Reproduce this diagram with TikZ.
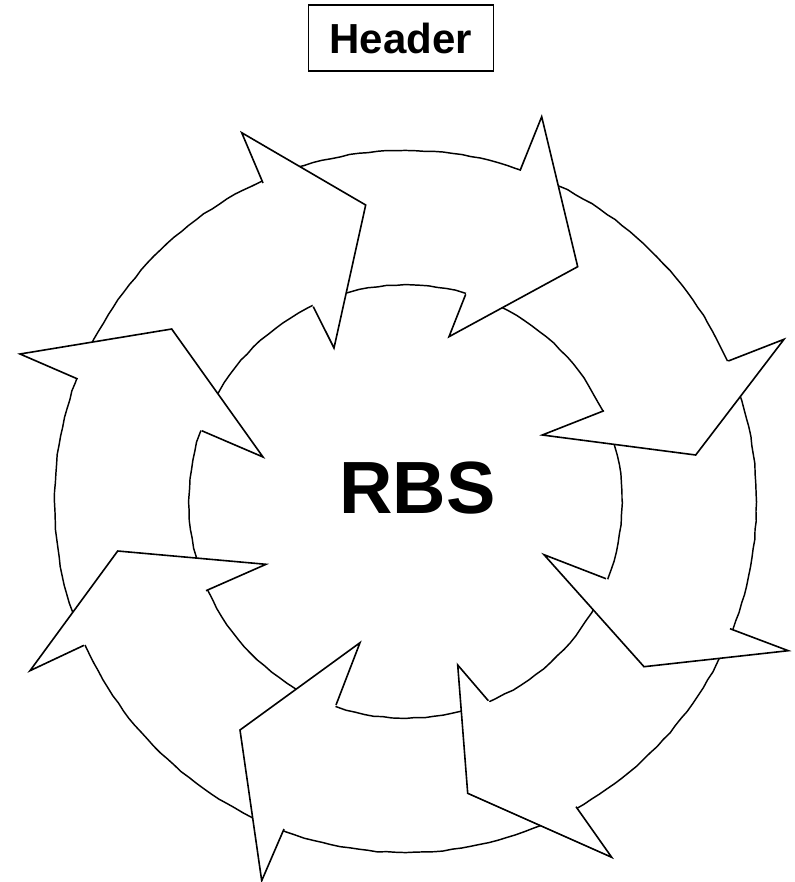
\documentclass[tikz,border=0pt]{standalone}
\usepackage{fontspec}
\setmainfont{Liberation Sans}
\usetikzlibrary{decorations.pathmorphing}

\begin{document}
\begin{tikzpicture}[
    x=0.75pt, y=-0.75pt,
    ring/.style={draw=black, line width=1.1pt, decorate,
                 decoration={random steps, segment length=7pt, amplitude=0.35pt}},
    headfill/.style={fill=white},
    headline/.style={draw=black, line width=1.2pt, line join=miter},
    title/.style={draw=black, line width=1.1pt, inner sep=0pt,
                  minimum width=138.7pt, minimum height=49.5pt,
                  font=\bfseries\fontsize{31.5}{36}\selectfont},
    centre/.style={font=\bfseries\fontsize{55.5}{64}\selectfont},
]
\useasboundingbox (0,0) rectangle (794,882);

% ===================== Titulo =====================
\node[title] (header) at (400.8,38) {Header};

% ===================== Anillo =====================
\draw[ring] (405.5,501.5) circle (263.2pt);
\draw[ring] (405.5,501.5) circle (162.4pt);

% ===================== Puntas de flecha =====================
% union exterior / punta exterior / vertice / punta interior / union interior
\foreach \xa/\ya/\xb/\yb/\xc/\yc/\xd/\yd/\xe/\ye in {
    263/183/241.7/132.7/365.7/205/334/348/313.3/306.7,
    520/170.7/541.7/116.7/577.7/266.7/449/336.7/465.7/294.3,
    728.3/361/784/339.3/695.7/455/542.3/435/604/410.7,
    730/628.7/788.3/650.7/644/666.7/544/554.7/606/578.7,
    576/806.7/611.7/857.3/467.7/793.3/457.7/665/488.3/700.7,
    284/829/261.7/880.7/240/730/360/642.7/336/705,
    84/645.3/30/670.7/117.7/551/266/564.3/206/590.7,
    77.7/379/20/354/171.7/329/263/457/201.7/430.7}{
    \fill[headfill] (\xa,\ya) -- (\xb,\yb) -- (\xc,\yc) -- (\xd,\yd) -- (\xe,\ye) -- cycle;
    \draw[headline] (\xa,\ya) -- (\xb,\yb) -- (\xc,\yc) -- (\xd,\yd) -- (\xe,\ye);
}

% ===================== Centro =====================
\node[centre] (rbs) at (417.5,488.3) {RBS};

\end{tikzpicture}
\end{document}
